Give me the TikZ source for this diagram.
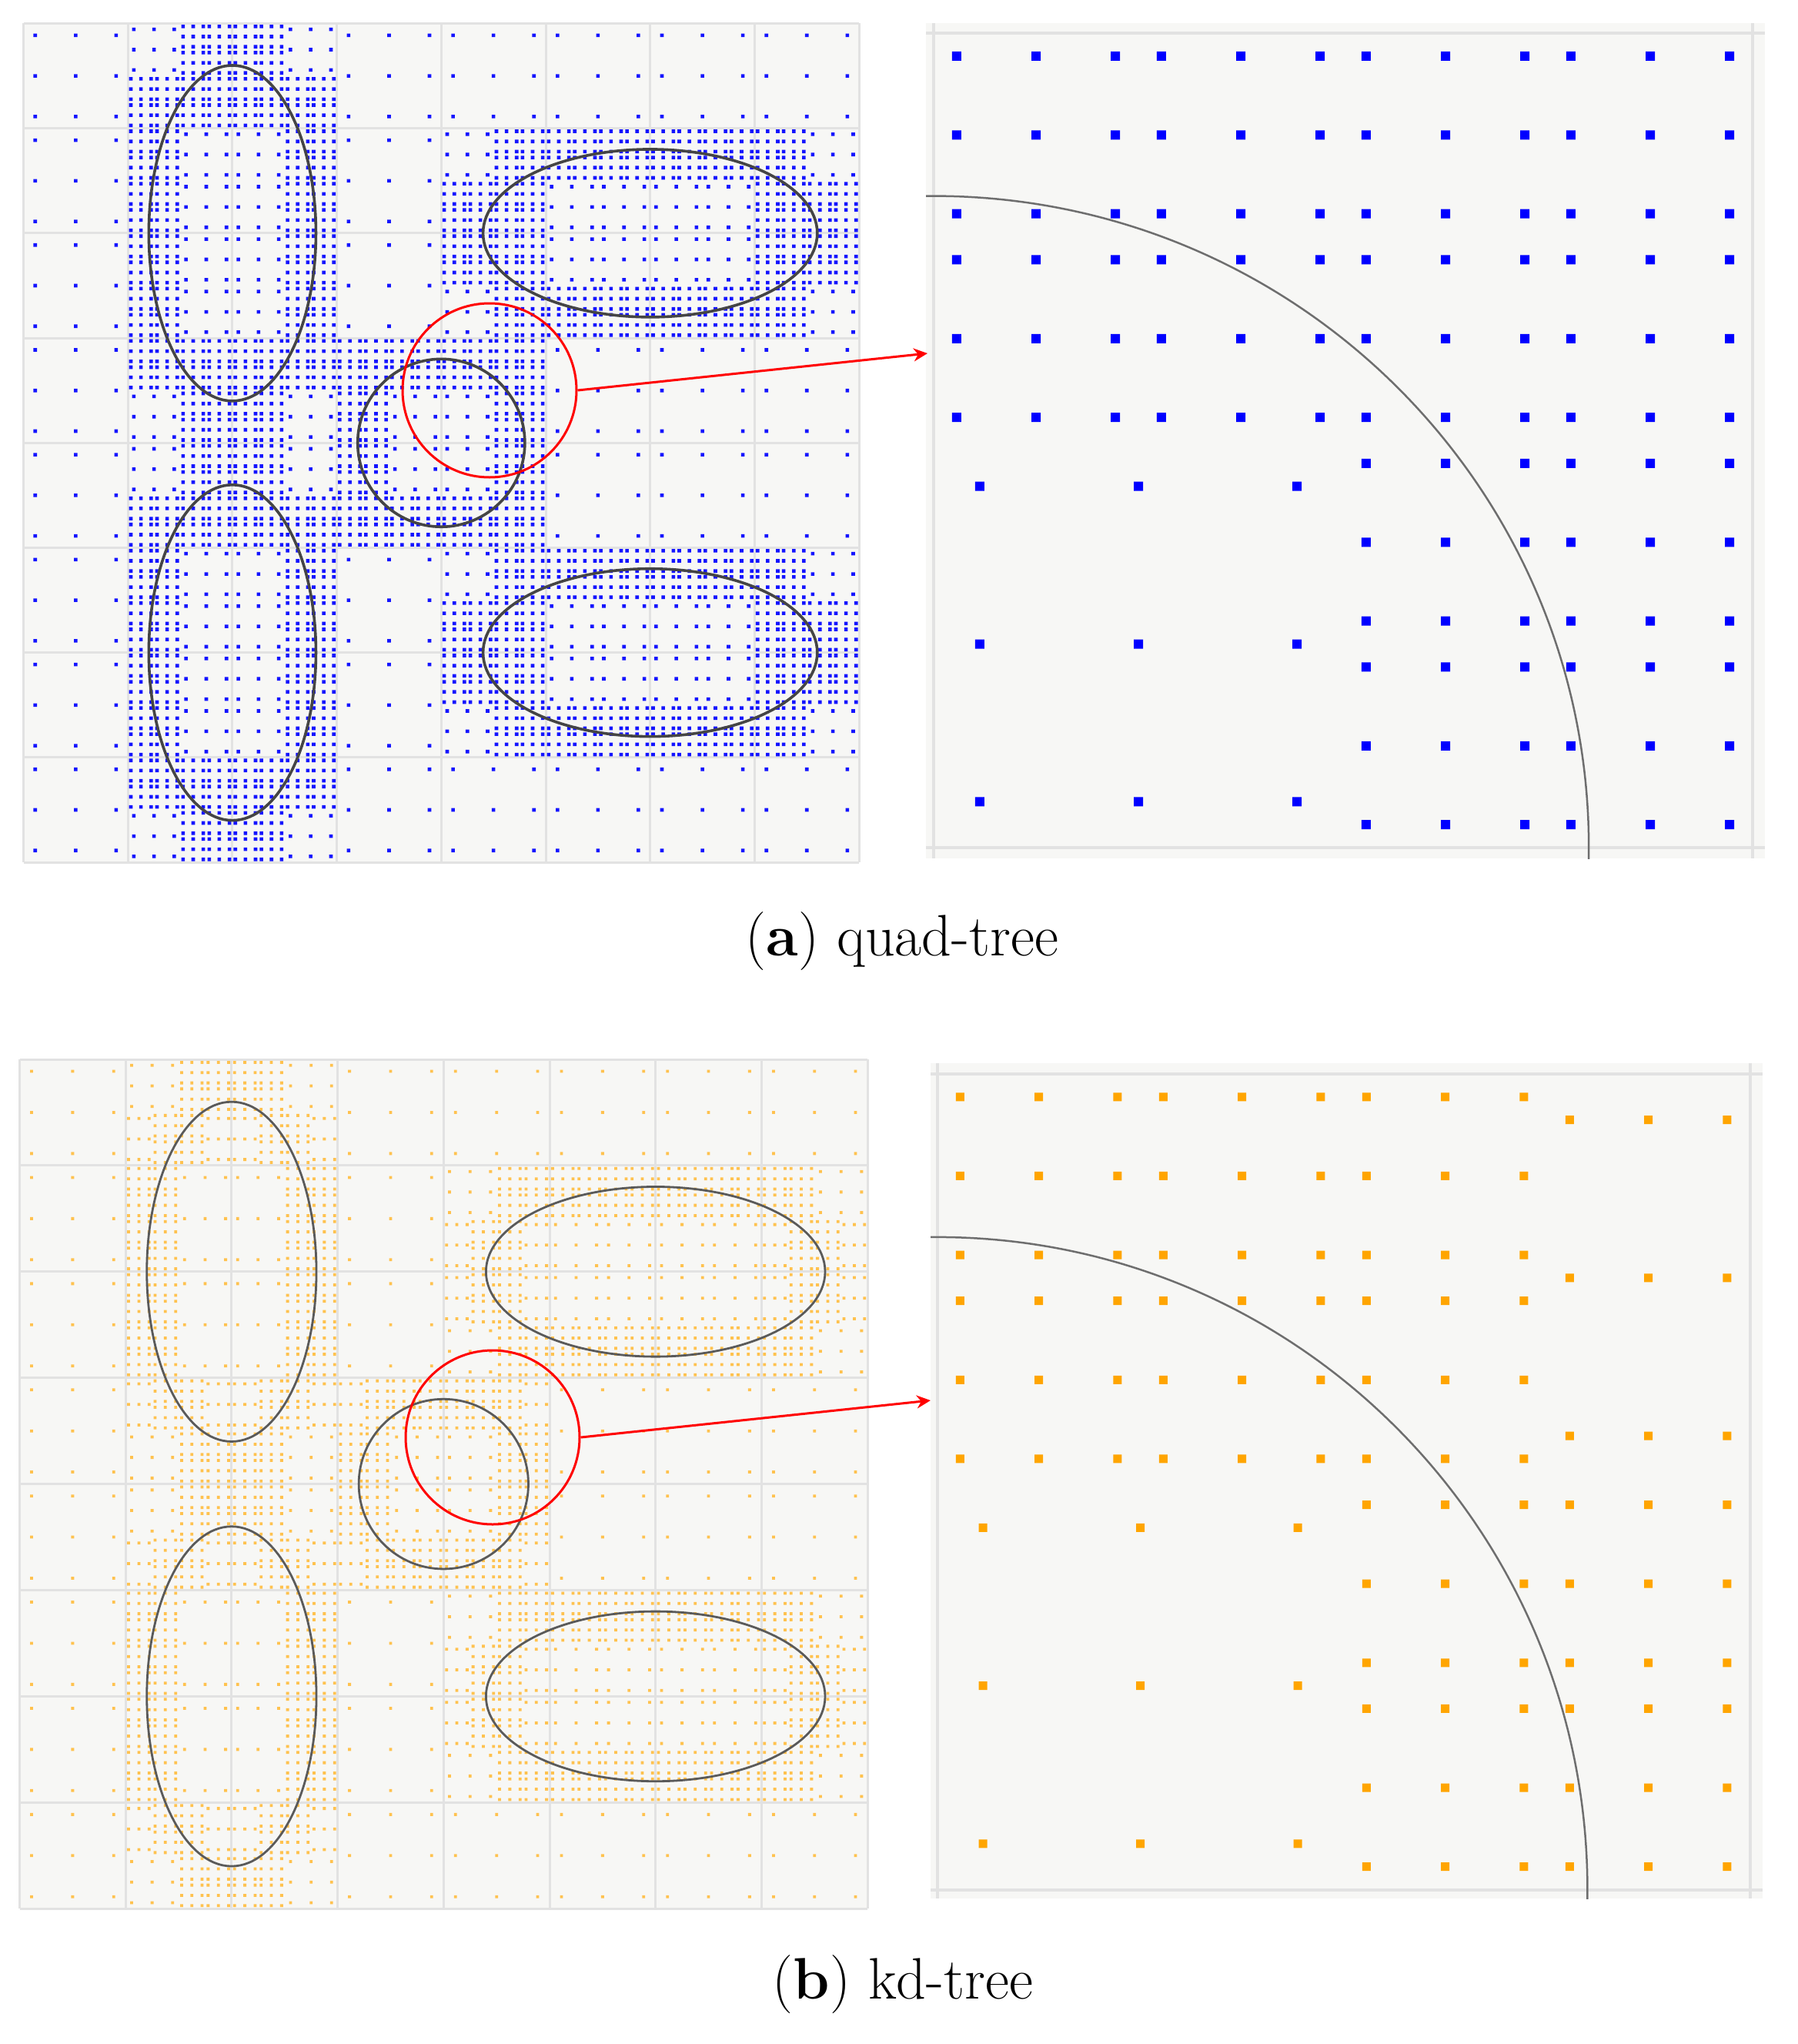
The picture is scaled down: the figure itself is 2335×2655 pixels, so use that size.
\documentclass[tikz,border=0pt]{standalone}
\usetikzlibrary{arrows.meta}
\definecolor{bgc}{HTML}{F7F7F5}
\definecolor{gridc}{HTML}{E2E2E2}
\definecolor{ellc}{HTML}{454545}
\definecolor{ellcb}{HTML}{5A5A5A}
\definecolor{arcc}{HTML}{6E6E6E}
\definecolor{dotb}{HTML}{1414FF}
\definecolor{dotbb}{HTML}{0000FF}
\definecolor{doto}{HTML}{FFA500}
\definecolor{dotol}{HTML}{FFC24F}
\definecolor{redc}{HTML}{FF0000}
\tikzset{dotfill/.style={fill=dotb}}
% distance from (x,y) to an ellipse boundary (first-order estimate)
\newcommand\ellD[6]{%
  \pgfmathsetmacro\eu{(#1-(#3))/(#5)}%
  \pgfmathsetmacro\ev{(#2-(#4))/(#6)}%
  \pgfmathsetmacro\es{sqrt((\eu)*(\eu)+(\ev)*(\ev))}%
  \pgfmathsetmacro\eg{sqrt(((\eu)/(#5))^2+((\ev)/(#6))^2)+0.0001}%
  \pgfmathsetmacro\ed{abs(\es-1)*\es/\eg}%
  \pgfmathsetmacro\dmin{min(\dmin,\ed)}%
}
\newcommand\distall[2]{%
  \def\dmin{100}%
  \ellD{#1}{#2}{2}{2}{0.8}{1.6}%
  \ellD{#1}{#2}{2}{6}{0.8}{1.6}%
  \ellD{#1}{#2}{6}{2}{1.6}{0.8}%
  \ellD{#1}{#2}{6}{6}{1.6}{0.8}%
  \ellD{#1}{#2}{4}{4}{0.8}{0.8}%
}
% one leaf cell: 3x3 Gauss points
\newcommand\gleaf[4]{%
  \fill[dotfill] \foreach \gu in {0.1127,0.5,0.8873}{\foreach \gv in {0.1127,0.5,0.8873}{
    ({#1+\gu*(#3)},{#2+\gv*(#4)}) +(-\dotr,-\dotr) rectangle +(\dotr,\dotr) }};%
}
% quad-tree cell: x0 y0 size level
\newcommand\qcell[4]{%
  \begingroup
  \pgfmathsetmacro\qX{#1}\pgfmathsetmacro\qY{#2}\pgfmathsetmacro\qS{#3}%
  \pgfmathtruncatemacro\qL{#4}%
  \ifnum\qL<2
    \pgfmathsetmacro\qcx{\qX+0.5*\qS}\pgfmathsetmacro\qcy{\qY+0.5*\qS}%
    \distall{\qcx}{\qcy}%
    \pgfmathtruncatemacro\qref{\dmin<0.7071*\qS?1:0}%
  \else
    \def\qref{0}%
  \fi
  \ifnum\qref=1
    \pgfmathsetmacro\qH{0.5*\qS}\pgfmathsetmacro\qXm{\qX+\qH}\pgfmathsetmacro\qYm{\qY+\qH}%
    \pgfmathtruncatemacro\qN{\qL+1}%
    \edef\qA{\noexpand\qcell{\qX}{\qY}{\qH}{\qN}\noexpand\qcell{\qXm}{\qY}{\qH}{\qN}%
      \noexpand\qcell{\qX}{\qYm}{\qH}{\qN}\noexpand\qcell{\qXm}{\qYm}{\qH}{\qN}}%
    \qA
  \else
    \gleaf{\qX}{\qY}{\qS}{\qS}%
  \fi
  \endgroup
}
% kd-tree cell: x0 y0 w h
\newcommand\kcell[4]{%
  \begingroup
  \pgfmathsetmacro\kX{#1}\pgfmathsetmacro\kY{#2}\pgfmathsetmacro\kW{#3}\pgfmathsetmacro\kH{#4}%
  \pgfmathtruncatemacro\kbig{max(\kW,\kH)>0.3?1:0}%
  \ifnum\kbig=1
    \pgfmathsetmacro\kcx{\kX+0.5*\kW}\pgfmathsetmacro\kcy{\kY+0.5*\kH}%
    \distall{\kcx}{\kcy}%
    \pgfmathtruncatemacro\kref{\dmin<0.5*sqrt(\kW*\kW+\kH*\kH)?1:0}%
  \else
    \def\kref{0}%
  \fi
  \ifnum\kref=1
    \pgfmathtruncatemacro\ksx{\kW>=\kH?1:0}%
    \ifnum\ksx=1
      \pgfmathsetmacro\kHalf{0.5*\kW}\pgfmathsetmacro\kM{\kX+\kHalf}%
      \edef\kA{\noexpand\kcell{\kX}{\kY}{\kHalf}{\kH}\noexpand\kcell{\kM}{\kY}{\kHalf}{\kH}}%
    \else
      \pgfmathsetmacro\kHalf{0.5*\kH}\pgfmathsetmacro\kM{\kY+\kHalf}%
      \edef\kA{\noexpand\kcell{\kX}{\kY}{\kW}{\kHalf}\noexpand\kcell{\kX}{\kM}{\kW}{\kHalf}}%
    \fi
    \kA
  \else
    \gleaf{\kX}{\kY}{\kW}{\kH}%
  \fi
  \endgroup
}
\newcommand\panelshapes[2]{%
  \draw[#1,line width=#2] (2,2) ellipse [x radius=0.8,y radius=1.6];
  \draw[#1,line width=#2] (2,6) ellipse [x radius=0.8,y radius=1.6];
  \draw[#1,line width=#2] (6,2) ellipse [x radius=1.6,y radius=0.8];
  \draw[#1,line width=#2] (6,6) ellipse [x radius=1.6,y radius=0.8];
  \draw[#1,line width=#2] (4,4) circle [radius=0.8];
}
\newcommand\panelgrid{%
  \fill[bgc] (0,0) rectangle (8,8);
  \foreach \k in {0,...,8}{\draw[gridc,line width=3pt] (\k,0) -- (\k,8); \draw[gridc,line width=3pt] (0,\k) -- (8,\k);}
}
\begin{document}
\begin{tikzpicture}[x=1pt,y=-1pt,
  zoomring/.style={circle,draw=redc,line width=3pt,minimum size=226pt,inner sep=0pt},
  zoomarrow/.style={draw=redc,line width=3pt,-{Stealth[length=18pt,width=17pt]}},
  caption/.style={inner sep=0pt,font=\fontsize{76}{86}\selectfont}]
\useasboundingbox (0,0) rectangle (2335,2655);
\fill[white] (0,0) rectangle (2335,2655);

% ---------------- (a) quad-tree, full domain
\begin{scope}[shift={(30.5pt,-30.5pt)},x=135.7pt,y=-136.2pt,dotfill/.style={fill=dotb}]
  \def\dotr{2.3pt}
  \panelgrid
  \foreach \bi in {0,...,7}{\foreach \bj in {0,...,7}{\qcell{\bi}{\bj}{1}{0}}}
  \panelshapes{ellc}{3.6pt}
\end{scope}
\node[zoomring] (ringA) at (636,507) {};

% ---------------- (a) magnified cell
\fill[bgc] (1203,30) rectangle (2293,1115);
\draw[gridc,line width=4pt] (1213,30) -- (1213,1115);
\draw[gridc,line width=4pt] (2277,30) -- (2277,1115);
\draw[gridc,line width=4pt] (1203,43) -- (2293,43);
\draw[gridc,line width=4pt] (1203,1101) -- (2293,1101);
\begin{scope}[shift={(-3043pt,3131pt)},x=1064pt,y=-1058pt,dotfill/.style={fill=dotbb}]
  \def\dotr{6pt}
  \qcell{4}{3}{1}{0}
\end{scope}
\begin{scope}
  \clip (1203,30) rectangle (2293,1115);
  \begin{scope}[shift={(-3043pt,3131pt)},x=1064pt,y=-1058pt]
    \draw[arcc,line width=2.5pt] (4,4) circle [radius=0.8];
  \end{scope}
\end{scope}
\coordinate (tipA) at (1205,459);
\draw[zoomarrow] (ringA.east) -- (tipA);
\node[caption] (capA) at (1172,1223) {(\textbf{a}) quad-tree};

% ---------------- (b) kd-tree, full domain
\begin{scope}[shift={(25.5pt,-1376pt)},x=137.7pt,y=-137.9pt,dotfill/.style={fill=dotol}]
  \def\dotr{1.9pt}
  \panelgrid
  \foreach \bi in {0,...,7}{\foreach \bj in {0,...,7}{\kcell{\bi}{\bj}{1}{1}}}
  \panelshapes{ellcb}{2.8pt}
\end{scope}
\node[zoomring] (ringB) at (640,1867) {};

% ---------------- (b) magnified cell
\fill[bgc] (1209,1381) rectangle (2290,2466);
\draw[gridc,line width=4pt] (1217.6,1381) -- (1217.6,2466);
\draw[gridc,line width=4pt] (2273.6,1381) -- (2273.6,2466);
\draw[gridc,line width=4pt] (1209,1395) -- (2290,1395);
\draw[gridc,line width=4pt] (1209,2454.5) -- (2290,2454.5);
\begin{scope}[shift={(-3006.4pt,1783.5pt)},x=1056pt,y=-1059.5pt,dotfill/.style={fill=doto}]
  \def\dotr{5.5pt}
  \kcell{4}{3}{1}{1}
\end{scope}
\begin{scope}
  \clip (1209,1381) rectangle (2290,2466);
  \begin{scope}[shift={(-3006.4pt,1783.5pt)},x=1056pt,y=-1059.5pt]
    \draw[arcc,line width=2.5pt] (4,4) circle [radius=0.8];
  \end{scope}
\end{scope}
\coordinate (tipB) at (1209,1819);
\draw[zoomarrow] (ringB.east) -- (tipB);
\node[caption] (capB) at (1173,2578) {(\textbf{b}) kd-tree};
\end{tikzpicture}
\end{document}
